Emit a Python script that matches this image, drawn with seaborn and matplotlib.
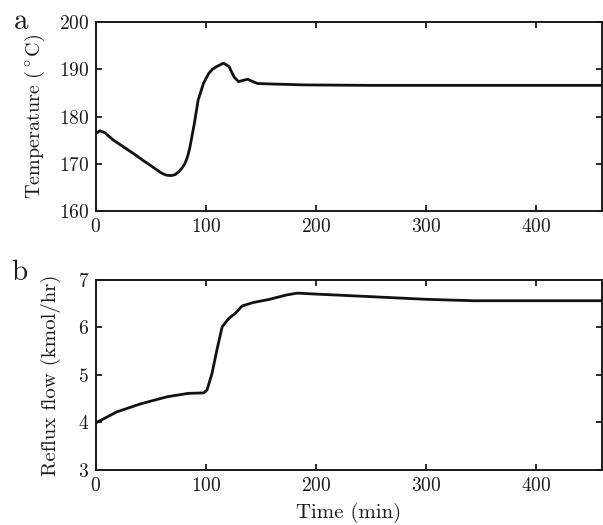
import numpy as np
import pandas as pd
import matplotlib
matplotlib.use('Agg')
import matplotlib.pyplot as plt
import seaborn as sns

# panel a: temperature (deg C) vs time (min)
temp_time = [0, 3.7, 8, 16, 25, 34.6, 43, 50, 56, 60, 64, 68.5, 72, 74.7, 78,
             80.9, 83.5, 85.5, 89.5, 93, 97.8, 102.5, 106, 110, 116, 121,
             125.6, 129.6, 133, 138, 142.6, 147, 158, 189, 250, 350, 460]
temp_vals = [176.4, 177.0, 176.6, 175.0, 173.6, 172.1, 170.7, 169.6, 168.6,
             168.0, 167.6, 167.5, 167.7, 168.2, 169.0, 170.0, 171.6, 173.5,
             178.5, 183.5, 187.0, 189.1, 190.0, 190.6, 191.3, 190.6, 188.4,
             187.4, 187.6, 187.9, 187.4, 187.0, 186.9, 186.7, 186.6, 186.6, 186.6]

# panel b: reflux flow (kmol/hr) vs time (min)
flow_time = [0, 19, 40.7, 65, 84, 98, 101, 105.6, 110, 114.8, 121, 127, 133,
             142.6, 158, 173, 183, 200, 246, 300, 343, 383, 460]
flow_vals = [3.99, 4.22, 4.39, 4.54, 4.61, 4.62, 4.68, 5.03, 5.52, 6.01, 6.19,
             6.30, 6.45, 6.52, 6.59, 6.68, 6.72, 6.70, 6.65, 6.59, 6.56, 6.56, 6.56]

x_ticks = [0, 100, 200, 300, 400]
temp_ticks = [160, 170, 180, 190, 200]
flow_ticks = [3, 4, 5, 6, 7]

sns.set_style('ticks')
plt.rcParams['font.family'] = ['cmr10', 'DejaVu Serif']
plt.rcParams['mathtext.fontset'] = 'cm'
plt.rcParams['axes.formatter.use_mathtext'] = True
plt.rcParams['axes.unicode_minus'] = False

df_a = pd.DataFrame({'time': temp_time, 'value': temp_vals})
df_b = pd.DataFrame({'time': flow_time, 'value': flow_vals})

fig = plt.figure(figsize=(6.03, 5.25), dpi=100)
ax_a = fig.add_axes([0.159, 0.598, 0.839, 0.360])
ax_b = fig.add_axes([0.159, 0.105, 0.839, 0.362])

sns.lineplot(data=df_a, x='time', y='value', ax=ax_a, color='#111111', lw=2.0)
sns.lineplot(data=df_b, x='time', y='value', ax=ax_b, color='#111111', lw=2.0)

for ax, yt in [(ax_a, temp_ticks), (ax_b, flow_ticks)]:
    ax.set_xlim(0, 460)
    ax.set_ylim(yt[0], yt[-1])
    ax.set_xticks(x_ticks)
    ax.set_yticks(yt)
    ax.tick_params(direction='in', top=True, right=True, length=4, width=1.3,
                   labelsize=14, colors='#1a1a1a', pad=5)
    for s in ax.spines.values():
        s.set_linewidth(1.4)
        s.set_color('#1a1a1a')
        s.set_visible(True)
    ax.set_xlabel('')

ax_a.set_ylabel(r'Temperature ($^\circ$C)', fontsize=14.5, labelpad=8, color='#1a1a1a')
ax_b.set_ylabel('Reflux flow (kmol/hr)', fontsize=15, labelpad=12, color='#1a1a1a')
ax_b.set_xlabel('Time (min)', fontsize=15, labelpad=6, color='#1a1a1a')

fig.text(0.035, 0.958, 'a', fontsize=21, va='center', ha='center', color='#1a1a1a')
fig.text(0.032, 0.48, 'b', fontsize=21, va='center', ha='center', color='#1a1a1a')

fig.savefig('out.png', dpi=100)
